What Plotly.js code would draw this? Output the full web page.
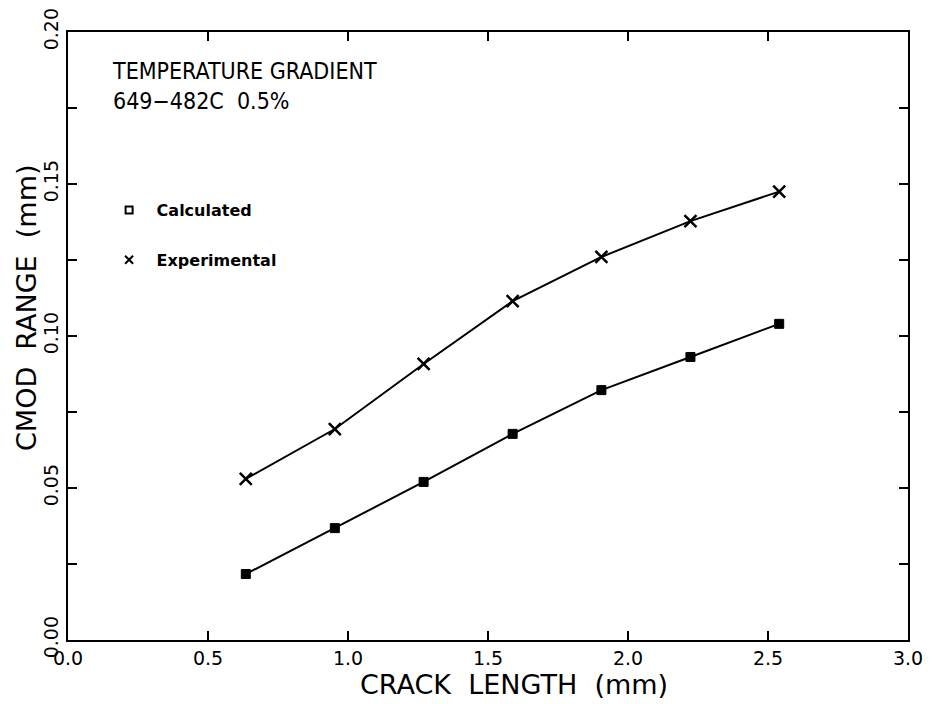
<!DOCTYPE html>
<html>
<head>
<meta charset="utf-8">
<script src="https://cdn.plot.ly/plotly-3.0.1.min.js"></script>
<style>html,body{margin:0;padding:0;background:#fff;}#chart{width:933px;height:704px;}</style>
</head>
<body>
<div id="chart"></div>
<script>
// Data
const crackLength = [0.635, 0.953, 1.27, 1.588, 1.905, 2.223, 2.54];
const calculated = [0.0217, 0.0368, 0.0520, 0.0678, 0.0822, 0.0931, 0.1040];
const experimental = [0.0530, 0.0694, 0.0908, 0.1115, 0.1260, 0.1378, 0.1475];
const xTickVals = [0, 0.5, 1.0, 1.5, 2.0, 2.5, 3.0];
const xTickText = ["0.0", "0.5", "1.0", "1.5", "2.0", "2.5", "3.0"];
const yTickVals = [0, 0.05, 0.10, 0.15, 0.20];
const yTickText = ["0.00", "0.05", "0.10", "0.15", "0.20"];
const seriesNames = ["Calculated", "Experimental"];
const titleLines = ["TEMPERATURE GRADIENT", "649\u2212482C\u00a0\u00a00.5%"];
const xTitle = "CRACK\u00a0\u00a0LENGTH\u00a0\u00a0(mm)";
const yTitle = "CMOD\u00a0\u00a0RANGE\u00a0\u00a0(mm)";

const mainFont = "DejaVu Sans, sans-serif";

const traces = [
  {x: crackLength, y: calculated, mode: "lines+markers", showlegend: false,
   line: {color: "#000", width: 2},
   marker: {symbol: "square", size: 9, color: "#000", line: {color: "#000", width: 1}}},
  {x: crackLength, y: experimental, mode: "lines+markers", showlegend: false,
   line: {color: "#000", width: 2},
   marker: {symbol: "x-thin-open", size: 12, color: "#000", line: {color: "#000", width: 2.5}}},
  {x: [null], y: [null], mode: "markers", name: seriesNames[0], legendgroup: "a",
   marker: {symbol: "square-open", size: 7, color: "#000", line: {color: "#000", width: 2}}},
  {x: [null], y: [null], mode: "markers", name: seriesNames[1], legendgroup: "b",
   marker: {symbol: "x-thin-open", size: 8, color: "#000", line: {color: "#000", width: 2}}}
];

const axisCommon = {
  showline: true, linecolor: "#000", linewidth: 2, mirror: "ticks",
  ticks: "inside", ticklen: 9, tickwidth: 2, tickcolor: "#000",
  showgrid: false, zeroline: false,
  tickfont: {family: mainFont, size: 19, color: "#000"}
};

const layout = {
  width: 933, height: 704,
  paper_bgcolor: "#fff", plot_bgcolor: "#fff",
  margin: {l: 68, r: 25, t: 32, b: 64},
  xaxis: Object.assign({}, axisCommon, {
    range: [0, 3.0], tickmode: "array", tickvals: xTickVals, ticktext: xTickText
  }),
  yaxis: Object.assign({}, axisCommon, {
    range: [0, 0.2], tickmode: "array", tickvals: yTickVals, ticktext: yTickText,
    tickangle: -90,
    minor: {dtick: 0.025, tick0: 0, ticks: "inside", ticklen: 9, tickwidth: 2, tickcolor: "#000", showgrid: false}
  }),
  showlegend: true,
  legend: {
    x: 0.04, y: 0.735, xanchor: "left", yanchor: "top",
    bgcolor: "rgba(0,0,0,0)", borderwidth: 0,
    traceorder: "grouped", tracegroupgap: 26, itemwidth: 45,
    font: {family: "DejaVu Sans, sans-serif", size: 16, color: "#000", weight: "bold"}
  },
  annotations: [
    {xref: "paper", yref: "paper", x: (110 - 68) / 840, y: (640 - 56) / 608,
     xanchor: "left", yanchor: "top", align: "left", showarrow: false,
     text: titleLines.join("<br>"),
     font: {family: "DejaVu Sans Condensed, sans-serif", size: 23, color: "#000"}},
    {xref: "paper", yref: "paper", x: (514 - 68) / 840, y: (640 - 684) / 608,
     xanchor: "center", yanchor: "middle", showarrow: false, text: xTitle,
     font: {family: mainFont, size: 27, color: "#000"}},
    {xref: "paper", yref: "paper", x: (26 - 68) / 840, y: (640 - 308) / 608,
     xanchor: "center", yanchor: "middle", showarrow: false, text: yTitle, textangle: -90,
     font: {family: mainFont, size: 27, color: "#000"}}
  ]
};

Plotly.newPlot("chart", traces, layout, {displayModeBar: false, staticPlot: true});
</script>
</body>
</html>
